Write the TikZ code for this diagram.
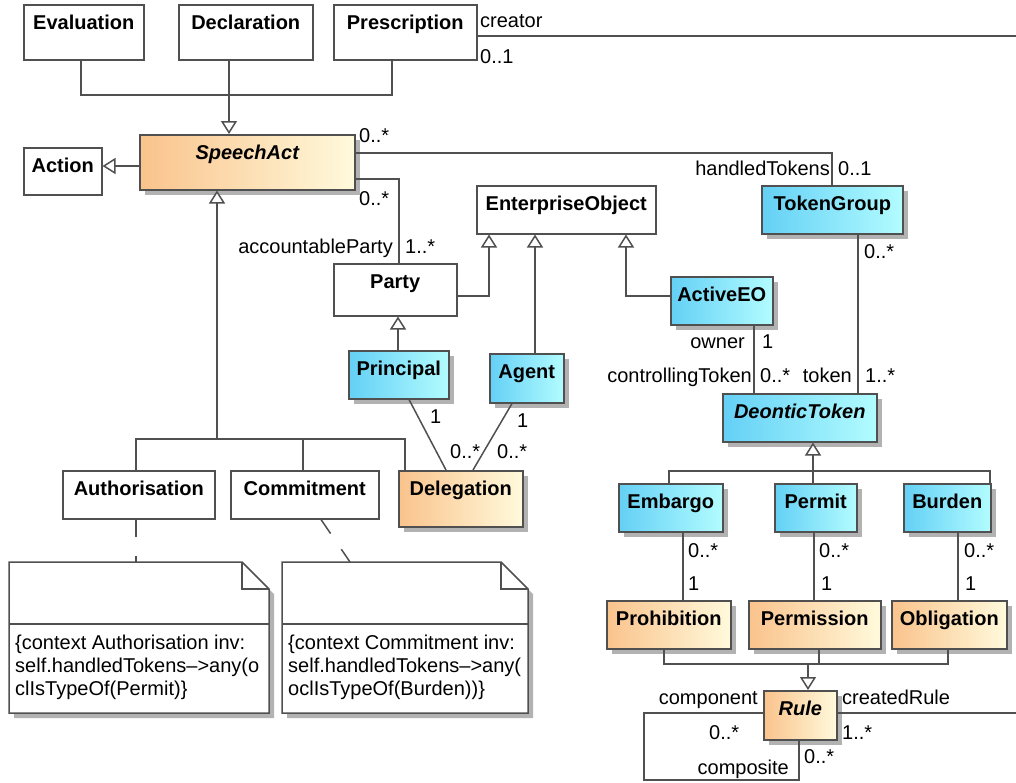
\documentclass[tikz,border=0pt]{standalone}
\usepackage{fontspec}
\setmainfont{Liberation Sans}
\usetikzlibrary{arrows.meta,shadows,calc}

\definecolor{lc}{RGB}{80,80,80}
\definecolor{blueL}{RGB}{100,208,245}
\definecolor{blueR}{RGB}{178,252,255}
\definecolor{orgL}{RGB}{250,195,140}
\definecolor{orgR}{RGB}{255,250,220}
\definecolor{shd}{RGB}{178,178,178}

\tikzset{
  box/.style={draw=lc, line width=1.5pt, anchor=north west, inner sep=0pt},
  plain/.style={box, fill=white},
  shadowed/.style={drop shadow={shadow xshift=5pt, shadow yshift=-5pt, fill=shd, opacity=1}},
  bluebox/.style={box, shadowed, left color=blueL, right color=blueR},
  orgbox/.style={box, shadowed, left color=orgL, right color=orgR},
  title/.style={font=\bfseries\fontsize{20}{24}\selectfont, anchor=base, inner sep=0pt},
  ititle/.style={title, font=\bfseries\itshape\fontsize{20}{24}\selectfont},
  lbl/.style={font=\fontsize{20}{24}\selectfont, inner sep=0pt},
  conn/.style={draw=lc, line width=1.5pt},
  gen/.style={conn, -{Triangle[width=16pt,length=13pt,fill=white]}},
  anchorline/.style={conn, dash pattern=on 17pt off 19pt},
  notetxt/.style={lbl, anchor=base west},
}

% class box: name, x, y, width, height, box style, title style, title
\newcommand{\umlclass}[8]{%
  \node[#6, minimum width=#4pt, minimum height=#5pt] (#1) at (#2,#3) {};
  \node[#7] (#1-t) at ($(#1.north)+(0,25)$) {#8};
}

% note with folded corner: name, x1, y1, x2, y2
\newcommand{\umlnote}[5]{%
  \fill[shd] (#2+5,#3+5) -- (#4+5-27,#3+5) -- (#4+5,#3+5+27) -- (#4+5,#5+5) -- (#2+5,#5+5) -- cycle;
  \filldraw[fill=white, draw=lc, line width=1.5pt, line join=miter]
    (#2,#3) -- (#4-27,#3) -- (#4,#3+27) -- (#4,#5) -- (#2,#5) -- cycle;
  \draw[conn] (#4-27,#3) |- (#4,#3+27);
  \draw[conn] (#2,#3+62) -- (#4,#3+62);
  \node[inner sep=0pt, anchor=north west, minimum width=#4pt-#2pt, minimum height=#5pt-#3pt] (#1) at (#2,#3) {};
}

\begin{document}
\begin{tikzpicture}[x=1pt, y=-1pt]
\useasboundingbox (0,0) rectangle (1016,782);
\fill[white] (0,0) rectangle (1016,782);

% classes
\umlclass{eval}{23}{4}{120}{55}{plain}{title}{Evaluation}
\umlclass{decl}{178}{4}{134}{55}{plain}{title}{Declaration}
\umlclass{presc}{333}{4}{143}{55}{plain}{title}{Prescription}
\umlclass{action}{23}{147}{78}{47}{plain}{title}{Action}
\umlclass{speech}{139}{134}{215}{55}{orgbox}{ititle}{SpeechAct}
\umlclass{eo}{476}{185}{179}{48}{plain}{title}{EnterpriseObject}
\umlclass{tokgrp}{761}{185}{141}{48}{bluebox}{title}{TokenGroup}
\umlclass{party}{333}{263}{123}{52}{plain}{title}{Party}
\umlclass{aeo}{670}{276}{102}{48}{bluebox}{title}{ActiveEO}
\umlclass{principal}{348}{350}{100}{48}{bluebox}{title}{Principal}
\umlclass{agent}{489}{353}{74}{49}{bluebox}{title}{Agent}
\umlclass{dtoken}{722}{393}{154}{48}{bluebox}{ititle}{DeonticToken}
\umlclass{auth}{62}{470}{152}{48}{plain}{title}{Authorisation}
\umlclass{commit}{230}{470}{148}{48}{plain}{title}{Commitment}
\umlclass{deleg}{398}{470}{124}{56}{orgbox}{title}{Delegation}
\umlclass{embargo}{618}{483}{104}{48}{bluebox}{title}{Embargo}
\umlclass{permit}{774}{483}{82}{48}{bluebox}{title}{Permit}
\umlclass{burden}{903}{483}{87}{48}{bluebox}{title}{Burden}
\umlclass{prohib}{606}{600}{124}{48}{orgbox}{title}{Prohibition}
\umlclass{permis}{748}{600}{132}{48}{orgbox}{title}{Permission}
\umlclass{oblig}{891}{600}{115}{48}{orgbox}{title}{Obligation}
\umlclass{rule}{763}{690}{73}{49}{orgbox}{ititle}{Rule}

% OCL constraint notes
\umlnote{n1}{9}{562}{269}{713}
\node[notetxt] (n1-a) at (15,649) {\{context Authorisation inv:};
\node[notetxt] (n1-b) at (15,672) {self.handledTokens–>any(o};
\node[notetxt] (n1-c) at (15,695) {clIsTypeOf(Permit)\}};
\umlnote{n2}{282}{562}{528}{713}
\node[notetxt] (n2-a) at (288,649) {\{context Commitment inv:};
\node[notetxt] (n2-b) at (288,672) {self.handledTokens–>any(};
\node[notetxt] (n2-c) at (288,695) {oclIsTypeOf(Burden))\}};

\draw[anchorline] (136,0 |- auth.south) -- (136,0 |- n1.north);
\draw[anchorline] (321,0 |- commit.south) -- (350,0 |- n2.north);

% generalisations of SpeechAct
\coordinate (g1) at (229,95);
\draw[conn] (81,0 |- eval.south) |- (g1);
\draw[conn] (392,0 |- presc.south) |- (g1);
\draw[gen] (g1 |- decl.south) -- (g1) -- (g1 |- speech.north);
\draw[gen] (speech.west |- 0,166) -- (action.east |- 0,166);

\coordinate (g2) at (217,439);
\draw[conn] (136,0 |- auth.north) |- (405,439) -- (405,0 |- deleg.north);
\draw[conn] (303,0 |- commit.north) -- (303,439);
\draw[gen] (g2) -- (g2 |- speech.south);

% associations of SpeechAct
\draw[conn] (speech.east |- 0,153) -| (832,0 |- tokgrp.north);
\draw[conn] (speech.east |- 0,179) -| (399,0 |- party.north);
\coordinate (edge1) at (1020,36);
\draw[conn] (presc.east |- edge1) -- (edge1);

% enterprise objects
\draw[gen] (party.east |- 0,296) -| (489,0 |- eo.south);
\draw[gen] (535,0 |- agent.north) -- (535,0 |- eo.south);
\draw[gen] (aeo.west |- 0,296) -| (626,0 |- eo.south);
\draw[gen] (398,0 |- principal.north) -- (398,0 |- party.south);
\draw[conn] (409,0 |- principal.south) -- (446,0 |- deleg.north);
\draw[conn] (512,0 |- agent.south) -- (473,0 |- deleg.north);

% tokens
\draw[conn] (858,0 |- tokgrp.south) -- (858,0 |- dtoken.north);
\draw[conn] (754,0 |- aeo.south) -- (754,0 |- dtoken.north);
\coordinate (g3) at (813,471);
\draw[conn] (669,0 |- embargo.north) |- (990,471) -- (990,0 |- burden.north);
\draw[conn] (g3 |- permit.north) -- (g3);
\draw[gen] (g3) -- (g3 |- dtoken.south);
\draw[conn] (683,0 |- embargo.south) -- (683,0 |- prohib.north);
\draw[conn] (814,0 |- permit.south) -- (814,0 |- permis.north);
\draw[conn] (958,0 |- burden.south) -- (958,0 |- oblig.north);

% rules
\coordinate (g4) at (808,664);
\draw[conn] (664,0 |- prohib.south) |- (948,664) -- (948,0 |- oblig.south);
\draw[conn] (819,0 |- permis.south) -- (819,664);
\draw[gen] (g4) -- (g4 |- rule.north);
\coordinate (edge2) at (1020,713);
\draw[conn] (rule.east |- edge2) -- (edge2);
\coordinate (loop1) at (644,780);
\draw[conn] (rule.west |- 0,713) -| (loop1) -| (799,0 |- rule.south);

% role names and multiplicities
\node[lbl, anchor=base west] (m-cr) at (480,27) {creator};
\node[lbl, anchor=base west] (m-cr1) at (480,63) {0..1};
\node[lbl, anchor=base west] (m-sa1) at (359,142) {0..*};
\node[lbl, anchor=base east] (m-ht) at (830,175) {handledTokens};
\node[lbl, anchor=base west] (m-ht1) at (838,175) {0..1};
\node[lbl, anchor=base west] (m-sa2) at (359,205) {0..*};
\node[lbl, anchor=base east] (m-ap) at (393,253) {accountableParty};
\node[lbl, anchor=base west] (m-ap1) at (405,253) {1..*};
\node[lbl, anchor=base west] (m-tg) at (864,258) {0..*};
\node[lbl, anchor=base east] (m-own) at (745,348) {owner};
\node[lbl, anchor=base west] (m-own1) at (762,348) {1};
\node[lbl, anchor=base east] (m-ct) at (752,382) {controllingToken};
\node[lbl, anchor=base west] (m-ct1) at (760,382) {0..*};
\node[lbl, anchor=base east] (m-tok) at (852,382) {token};
\node[lbl, anchor=base west] (m-tok1) at (865,382) {1..*};
\node[lbl, anchor=base west] (m-pr1) at (430,423) {1};
\node[lbl, anchor=base west] (m-ag1) at (517,427) {1};
\node[lbl, anchor=base west] (m-pr2) at (450,458) {0..*};
\node[lbl, anchor=base west] (m-ag2) at (497,458) {0..*};
\node[lbl, anchor=base west] (m-em1) at (688,557) {0..*};
\node[lbl, anchor=base west] (m-em2) at (688,590) {1};
\node[lbl, anchor=base west] (m-pe1) at (819,557) {0..*};
\node[lbl, anchor=base west] (m-pe2) at (821,590) {1};
\node[lbl, anchor=base west] (m-bu1) at (964,557) {0..*};
\node[lbl, anchor=base west] (m-bu2) at (965,590) {1};
\node[lbl, anchor=base east] (m-comp) at (758,704) {component};
\node[lbl, anchor=base west] (m-crr) at (842,704) {createdRule};
\node[lbl, anchor=base west] (m-comp1) at (709,739) {0..*};
\node[lbl, anchor=base west] (m-crr1) at (842,739) {1..*};
\node[lbl, anchor=base east] (m-cps) at (789,774) {composite};
\node[lbl, anchor=base west] (m-cps1) at (804,763) {0..*};
\end{tikzpicture}
\end{document}
